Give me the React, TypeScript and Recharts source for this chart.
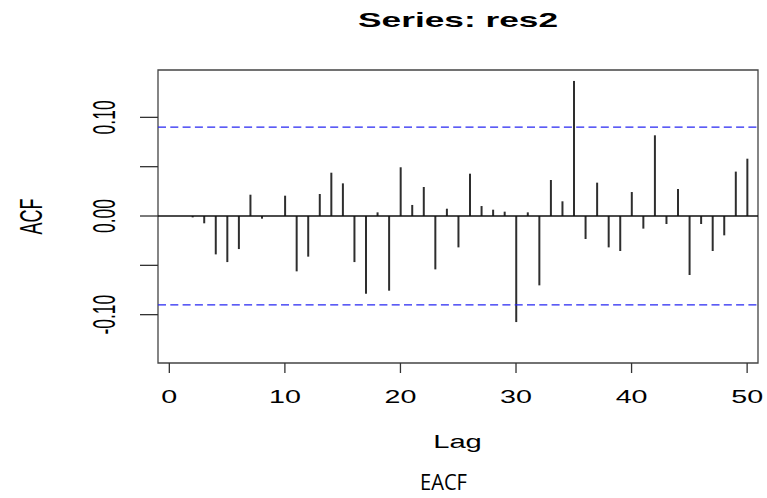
import React from 'react'
import {
  BarChart,
  Bar,
  XAxis,
  YAxis,
  ReferenceLine,
  ReferenceArea,
  Customized,
} from 'recharts'

// ACF of the residual series, lags 1..50
const lags = [
  1, 2, 3, 4, 5, 6, 7, 8, 9, 10,
  11, 12, 13, 14, 15, 16, 17, 18, 19, 20,
  21, 22, 23, 24, 25, 26, 27, 28, 29, 30,
  31, 32, 33, 34, 35, 36, 37, 38, 39, 40,
  41, 42, 43, 44, 45, 46, 47, 48, 49, 50,
]

const acfValues = [
  0.0, -0.0014, -0.0074, -0.0389, -0.0467, -0.0335, 0.0216, -0.0027, 0.0, 0.0206,
  -0.0561, -0.0412, 0.0223, 0.0439, 0.0331, -0.0467, -0.0788, 0.0037, -0.0757, 0.0494,
  0.0112, 0.0294, -0.0541, 0.0074, -0.0318, 0.0429, 0.0101, 0.0064, 0.0044, -0.1075,
  0.0037, -0.0703, 0.0365, 0.0149, 0.1369, -0.0233, 0.0338, -0.0318, -0.0355, 0.0243,
  -0.0128, 0.0818, -0.0081, 0.0274, -0.0598, -0.0081, -0.0355, -0.0196, 0.045, 0.0581,
]

const ciBound = 0.09

const xTicks = [0, 10, 20, 30, 40, 50]
const yTicks = [-0.1, -0.05, 0, 0.05, 0.1]
const yLabelled = [-0.1, 0, 0.1]

const xDomain = [-0.98, 50.94]
const yDomain = [-0.149, 0.148]

const FONT = "'Liberation Sans', Arial, Helvetica, sans-serif"

const data = lags.map((lag, i) => ({ lag, acf: acfValues[i] }))

const XTick = ({ x, y, payload }: any) => (
  <g transform={`translate(${x},${y + 28}) scale(1.55,1)`}>
    <text textAnchor="middle" fontFamily={FONT} fontSize={18.5} fill="#000">
      {payload.value}
    </text>
  </g>
)

const YTick = ({ x, y, payload }: any) => {
  const v = payload.value
  if (!yLabelled.some((t) => Math.abs(t - v) < 1e-9)) return null
  return (
    <g transform={`translate(${x - 23},${y}) scale(1.75,1) rotate(-90)`}>
      <text textAnchor="middle" fontFamily={FONT} fontSize={17.5} fill="#000">
        {v.toFixed(2)}
      </text>
    </g>
  )
}

const Titles = () => (
  <g>
    <g transform="translate(458,26.7) scale(1.68,1)">
      <text textAnchor="middle" fontFamily={FONT} fontWeight="bold" fontSize={21} fill="#000">
        Series: res2
      </text>
    </g>
    <g transform="translate(41.7,216.5) scale(1.75,1) rotate(-90)">
      <text textAnchor="middle" fontFamily={FONT} fontSize={18} fill="#000">
        ACF
      </text>
    </g>
    <g transform="translate(457.5,448) scale(1.62,1)">
      <text textAnchor="middle" fontFamily={FONT} fontSize={18} fill="#000">
        Lag
      </text>
    </g>
    <text
      x={443.5}
      y={490}
      textAnchor="middle"
      fontFamily="'Open Sans', 'Noto Sans', sans-serif"
      fontSize={21}
      textLength={47}
      lengthAdjust="spacingAndGlyphs"
      fill="#000"
    >
      EACF
    </text>
  </g>
)

export default function App() {
  return (
    <div style={{ position: 'absolute', left: 0, top: 0, background: '#fff' }}>
      <BarChart
        width={767}
        height={498}
        data={data}
        margin={{ top: 70, right: 9, bottom: 0, left: 0 }}
      >
        <XAxis
          dataKey="lag"
          type="number"
          domain={xDomain}
          ticks={xTicks}
          allowDataOverflow
          axisLine={false}
          tickSize={10}
          tickLine={{ stroke: '#333', strokeWidth: 1.3 }}
          tick={<XTick />}
          height={135}
          interval={0}
        />
        <YAxis
          type="number"
          domain={yDomain}
          ticks={yTicks}
          allowDataOverflow
          axisLine={false}
          tickSize={18}
          tickLine={{ stroke: '#333', strokeWidth: 1.3 }}
          tick={<YTick />}
          width={158}
          interval={0}
        />
        <ReferenceArea
          x1={xDomain[0]}
          x2={xDomain[1]}
          y1={yDomain[0]}
          y2={yDomain[1]}
          fill="none"
          stroke="#444"
          strokeWidth={1.3}
          ifOverflow="visible"
        />
        {/* 95% bounds */}
        <ReferenceLine y={ciBound} stroke="#2727f2" strokeWidth={1.3} strokeDasharray="8 4.3" />
        <ReferenceLine y={-ciBound} stroke="#2727f2" strokeWidth={1.3} strokeDasharray="8 4.3" />
        <Bar dataKey="acf" fill="#2e2e2e" barSize={2} isAnimationActive={false} />
        <ReferenceLine y={0} stroke="#111" strokeWidth={1.5} />
        <Customized component={Titles} />
      </BarChart>
    </div>
  )
}
